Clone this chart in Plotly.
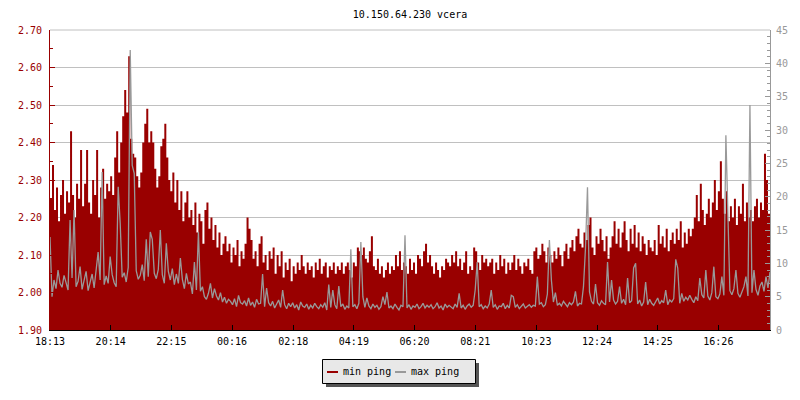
import plotly.graph_objects as go

# ---------------- data ----------------
start_label = "18:13"
tick_labels = ["18:13", "20:14", "22:15", "00:16", "02:18", "04:19",
               "06:20", "08:21", "10:23", "12:24", "14:25", "16:26"]

# one sample every 4 minutes over 24 h, starting 18:13
sample_minutes = [4 * i for i in range(360)]

min_ping = [
    2.25, 2.34, 2.22, 2.28, 2.19, 2.26, 2.30, 2.21, 2.27, 2.24,
    2.43, 2.26, 2.20, 2.29, 2.25, 2.38, 2.23, 2.29, 2.38, 2.24,
    2.21, 2.30, 2.26, 2.38, 2.20, 2.28, 2.33, 2.25, 2.29, 2.27,
    2.31, 2.26, 2.36, 2.43, 2.32, 2.40, 2.47, 2.54, 2.48, 2.63,
    2.41, 2.37, 2.36, 2.31, 2.28, 2.32, 2.40, 2.45, 2.49, 2.40,
    2.43, 2.40, 2.33, 2.28, 2.31, 2.39, 2.41, 2.45, 2.36, 2.30,
    2.27, 2.32, 2.24, 2.30, 2.22, 2.27, 2.19, 2.24, 2.27, 2.20,
    2.22, 2.18, 2.24, 2.16, 2.21, 2.19, 2.13, 2.22, 2.24, 2.17,
    2.20, 2.14, 2.18, 2.12, 2.16, 2.10, 2.13, 2.15, 2.11, 2.13,
    2.08, 2.12, 2.10, 2.14, 2.07, 2.11, 2.09, 2.13, 2.20, 2.17,
    2.14, 2.09, 2.11, 2.07, 2.13, 2.15, 2.08, 2.10, 2.06, 2.11,
    2.09, 2.12, 2.05, 2.10, 2.07, 2.11, 2.04, 2.08, 2.06, 2.09,
    2.03, 2.07, 2.05, 2.08, 2.06, 2.10, 2.07, 2.05, 2.08, 2.06,
    2.07, 2.04, 2.08, 2.06, 2.09, 2.05, 2.07, 2.08, 2.04, 2.07,
    2.06, 2.08, 2.05, 2.07, 2.06, 2.08, 2.05, 2.07, 2.08, 2.06,
    2.04, 2.08, 2.07, 2.12, 2.11, 2.10, 2.12, 2.09, 2.08, 2.11,
    2.15, 2.07, 2.06, 2.09, 2.05, 2.07, 2.04, 2.06, 2.08, 2.05,
    2.07, 2.06, 2.10, 2.07, 2.11, 2.06, 2.08, 2.07, 2.05, 2.09,
    2.06, 2.08, 2.05, 2.10, 2.09, 2.07, 2.11, 2.13, 2.08, 2.10,
    2.07, 2.05, 2.08, 2.06, 2.04, 2.07, 2.06, 2.09, 2.08, 2.07,
    2.10, 2.08, 2.11, 2.07, 2.09, 2.06, 2.08, 2.11, 2.05, 2.07,
    2.06, 2.12, 2.11, 2.08, 2.06, 2.10, 2.08, 2.09, 2.07, 2.08,
    2.09, 2.05, 2.08, 2.06, 2.10, 2.07, 2.09, 2.05, 2.08, 2.06,
    2.08, 2.10, 2.06, 2.09, 2.07, 2.05, 2.08, 2.07, 2.09, 2.06,
    2.05, 2.11, 2.12, 2.09, 2.10, 2.13, 2.11, 2.08, 2.12, 2.10,
    2.08, 2.11, 2.09, 2.12, 2.10, 2.07, 2.11, 2.13, 2.09, 2.12,
    2.14, 2.11, 2.15, 2.17, 2.13, 2.12, 2.16, 2.14, 2.18, 2.20,
    2.12, 2.10, 2.15, 2.13, 2.17, 2.14, 2.11, 2.15, 2.09, 2.12,
    2.15, 2.19, 2.13, 2.17, 2.12, 2.16, 2.19, 2.14, 2.11, 2.17,
    2.13, 2.18, 2.12, 2.16, 2.11, 2.15, 2.13, 2.10, 2.14, 2.12,
    2.11, 2.14, 2.10, 2.18, 2.13, 2.15, 2.12, 2.17, 2.11, 2.14,
    2.16, 2.13, 2.17, 2.14, 2.19, 2.12, 2.16, 2.13, 2.17, 2.15,
    2.17, 2.20, 2.26, 2.19, 2.29, 2.22, 2.18, 2.21, 2.25, 2.20,
    2.24, 2.30, 2.22, 2.27, 2.35, 2.25, 2.21, 2.27, 2.19, 2.23,
    2.20, 2.25, 2.18, 2.23, 2.21, 2.29, 2.19, 2.24, 2.20, 2.22,
    2.19, 2.23, 2.25, 2.20, 2.24, 2.22, 2.37, 2.30, 2.21, 2.23,
]

max_ping = [
    14.0, 5.0, 7.5, 6.2, 9.0, 7.0, 6.4, 8.2, 7.1, 6.0,
    16.5, 7.8, 18.0, 6.5, 7.3, 9.5, 6.1, 7.6, 8.8, 5.9,
    7.2, 8.4, 6.3, 9.0, 11.7, 7.5, 23.7, 6.8, 8.1, 7.0,
    11.0, 8.3, 7.1, 6.5, 21.5, 16.0, 7.9, 8.6, 7.2, 9.4,
    42.0, 24.7, 23.5, 8.9, 7.6, 8.2, 9.8, 7.4, 13.6, 8.0,
    14.7, 13.6, 8.5, 7.7, 9.1, 15.0, 8.3, 7.0, 13.0, 8.8,
    7.5, 9.2, 6.8, 8.4, 7.0, 10.8, 7.6, 6.2, 8.5, 6.9,
    7.2, 5.4, 10.2, 6.0, 14.7, 5.8, 6.5, 5.0, 4.6, 5.5,
    7.0, 4.8, 6.2, 5.1, 4.5, 5.6, 4.2, 4.9, 4.0, 4.6,
    4.3, 3.8, 4.7, 3.5, 5.2, 4.1, 3.9, 4.4, 3.6, 4.8,
    3.7, 4.2, 3.4, 4.6, 3.9, 4.0, 8.4, 3.5, 6.3, 4.1,
    3.6, 4.3, 3.3, 3.9, 4.5, 3.4, 6.0, 3.8, 3.2, 4.0,
    3.5, 4.1, 3.3, 3.8, 3.0, 4.2, 3.6, 3.4, 3.9, 3.1,
    3.7, 3.3, 4.0, 3.5, 3.2, 3.8, 3.4, 4.1, 3.0, 6.8,
    3.4, 6.0, 3.8, 3.2, 6.6, 3.5, 3.9, 3.1, 3.6, 3.3,
    12.1, 3.5, 3.8, 3.2, 4.0, 13.2, 5.0, 3.4, 4.8, 3.6,
    3.2, 3.9, 3.4, 3.7, 3.1, 3.5, 5.0, 3.8, 5.7, 3.3,
    3.6, 3.2, 3.9, 3.4, 3.0, 3.7, 3.5, 14.2, 3.3, 3.8,
    3.1, 3.6, 3.4, 3.9, 3.2, 3.5, 4.0, 3.3, 3.7, 3.4,
    3.8, 3.2, 3.5, 4.1, 3.3, 3.6, 3.0, 3.9, 3.4, 3.7,
    3.5, 3.2, 3.9, 3.4, 5.5, 3.3, 3.7, 3.1, 3.6, 3.9,
    3.4, 3.7, 6.0, 10.2, 3.5, 3.8, 3.2, 3.6, 3.3, 3.9,
    6.0, 3.4, 3.8, 3.1, 3.6, 3.5, 4.0, 3.2, 3.7, 3.3,
    5.2, 5.0, 3.4, 3.8, 3.2, 3.6, 3.9, 3.3, 3.5, 3.8,
    3.4, 3.7, 3.6, 8.0, 3.9, 4.1, 3.5, 3.8, 5.4, 13.5,
    7.5, 4.2, 5.6, 3.7, 4.0, 3.6, 4.3, 3.9, 3.5, 4.1,
    3.8, 4.2, 5.8, 3.6, 4.0, 3.9, 6.5, 12.3, 21.4, 5.7,
    4.3, 3.9, 6.9, 4.1, 3.7, 4.4, 4.0, 3.8, 10.2, 4.2,
    7.5, 4.5, 3.9, 4.3, 6.5, 4.0, 4.6, 3.8, 7.8, 4.1,
    4.4, 9.3, 10.0, 3.9, 4.5, 3.6, 4.2, 7.2, 3.8, 4.6,
    4.0, 3.7, 4.3, 4.8, 3.9, 4.4, 4.1, 6.0, 3.8, 4.5,
    4.2, 4.7, 10.6, 9.3, 4.0, 5.5, 4.3, 4.9, 4.5, 5.2,
    4.6, 4.1, 5.0, 4.4, 7.8, 5.3, 4.8, 9.0, 5.1, 4.5,
    5.6, 9.5, 5.0, 4.7, 5.4, 8.0, 5.2, 29.2, 17.5, 5.9,
    5.3, 6.2, 9.0, 5.5, 4.9, 5.8, 6.5, 8.0, 5.1, 33.75,
    5.6, 9.0, 6.1, 5.2, 6.6, 7.2, 5.8, 8.0, 6.3, 8.7,
]

series_names = ["min ping", "max ping"]
title_text = "10.150.64.230 vcera"

# ---------------- styling ----------------
RED = "#990000"
GRAY = "#999999"
FONT = "DejaVu Sans Mono"

W, H = 800, 400
L, R, T, B = 50, 30, 30, 70
PW, PH = W - L - R, H - T - B


def px_x(px):
    return (px - L) / PW


def px_y(py):
    return (H - B - py) / PH


def minutes_after_start(lbl):
    h, m = map(int, lbl.split(":"))
    sh, sm = map(int, start_label.split(":"))
    return ((h * 60 + m) - (sh * 60 + sm)) % 1440


tick_positions = [minutes_after_start(t) for t in tick_labels]

fig = go.Figure()
fig.add_trace(go.Scatter(
    x=sample_minutes, y=min_ping, name=series_names[0],
    mode="lines", line=dict(color=RED, width=0, shape="hv"),
    fill="tozeroy", fillcolor=RED, yaxis="y", hoverinfo="skip",
))
fig.add_trace(go.Scatter(
    x=sample_minutes, y=max_ping, name=series_names[1],
    mode="lines", line=dict(color=GRAY, width=1.3, shape="linear"),
    yaxis="y2", hoverinfo="skip",
))

fig.update_layout(
    width=W, height=H, autosize=False,
    margin=dict(l=L, r=R, t=T, b=B, pad=0),
    paper_bgcolor="white", plot_bgcolor="white",
    showlegend=False,
    font=dict(family=FONT, size=10, color="black"),
    title=dict(text=title_text, x=0.5, xref="paper", xanchor="center",
               y=1 - 14 / H, yref="container", yanchor="middle",
               font=dict(family=FONT, size=10, color="black")),
    xaxis=dict(
        range=[sample_minutes[0], sample_minutes[-1]],
        tickmode="array", tickvals=tick_positions, ticktext=tick_labels,
        showgrid=False, zeroline=False,
        showline=True, linecolor="black", linewidth=1,
        ticks="inside", ticklen=5, tickcolor="black", tickwidth=1,
        tickfont=dict(family=FONT, size=10, color="black"),
        ticklabelstandoff=2,
    ),
    yaxis=dict(
        range=[1.9, 2.7], tick0=1.9, dtick=0.1, tickformat=".2f",
        showgrid=True, gridcolor="#c0c0c0", gridwidth=1, zeroline=False,
        showline=True, linecolor=RED, linewidth=1,
        ticks="inside", ticklen=5, tickcolor=RED, tickwidth=1,
        minor=dict(dtick=0.05, ticks="inside", ticklen=3, tickcolor=RED),
        tickfont=dict(family=FONT, size=10, color=RED),
        ticklabelstandoff=5,
    ),
    yaxis2=dict(
        range=[0, 45], tick0=0, dtick=5, overlaying="y", side="right",
        showgrid=False, zeroline=False,
        showline=True, linecolor=GRAY, linewidth=1,
        ticks="inside", ticklen=5, tickcolor=GRAY, tickwidth=1,
        minor=dict(dtick=1, ticks="inside", ticklen=3, tickcolor=GRAY),
        tickfont=dict(family=FONT, size=10, color=GRAY),
        ticklabelstandoff=3,
    ),
)

# ---------------- top grid line + hand-drawn legend (as in the original) ----------------
shapes = [
    dict(type="line", xref="paper", yref="paper", x0=0, x1=1, y0=1, y1=1,
         line=dict(color="#c0c0c0", width=1), layer="below"),
    dict(type="rect", xref="paper", yref="paper",
         x0=px_x(326), x1=px_x(479), y0=px_y(363), y1=px_y(387),
         fillcolor="#555555", line=dict(width=0), layer="above"),
    dict(type="rect", xref="paper", yref="paper",
         x0=px_x(322.5), x1=px_x(475.5), y0=px_y(359.5), y1=px_y(383.5),
         fillcolor="#e8e8e8", line=dict(color="black", width=1), layer="above"),
    dict(type="line", xref="paper", yref="paper",
         x0=px_x(327), x1=px_x(338), y0=px_y(372), y1=px_y(372),
         line=dict(color=RED, width=2), layer="above"),
    dict(type="line", xref="paper", yref="paper",
         x0=px_x(395), x1=px_x(406), y0=px_y(372), y1=px_y(372),
         line=dict(color=GRAY, width=2), layer="above"),
]
annotations = [
    dict(text=series_names[0], xref="paper", yref="paper",
         x=px_x(341), y=px_y(371.5), xanchor="left", yanchor="middle",
         showarrow=False, font=dict(family=FONT, size=10, color="black")),
    dict(text=series_names[1], xref="paper", yref="paper",
         x=px_x(409), y=px_y(371.5), xanchor="left", yanchor="middle",
         showarrow=False, font=dict(family=FONT, size=10, color="black")),
]
fig.update_layout(shapes=shapes, annotations=annotations)

fig.write_html(
    "out.html",
    config={"displayModeBar": False},
    post_script="document.body.style.margin='0';document.body.style.padding='0';",
)
